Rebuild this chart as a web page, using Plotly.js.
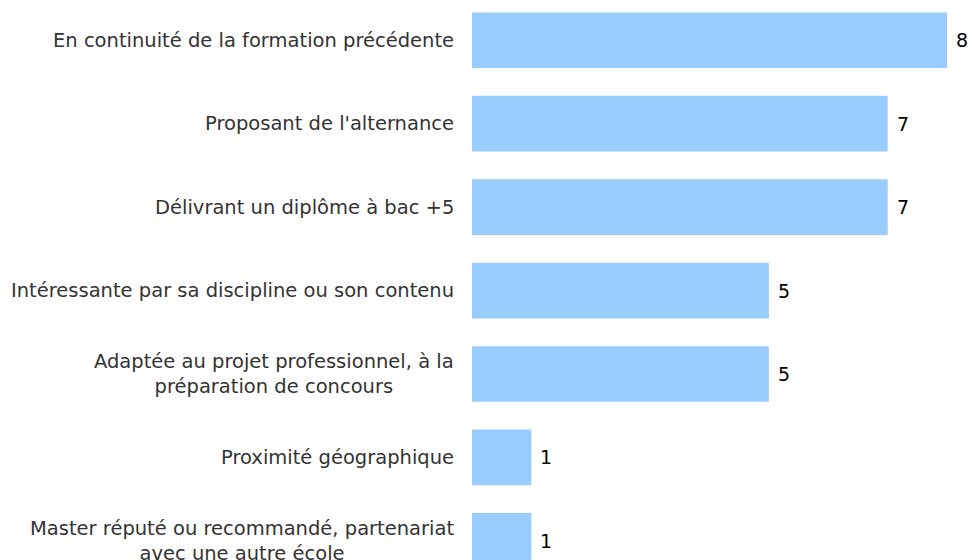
<!DOCTYPE html>
<html>
<head>
<meta charset="utf-8">
<script src="https://cdn.plot.ly/plotly-3.0.1.min.js"></script>
<style>
html,body{margin:0;padding:0;background:#fff;}
#chart{width:972px;height:560px;}
</style>
</head>
<body>
<div id="chart"></div>
<script>
const categories = [
  "En continuité de la formation précédente",
  "Proposant de l'alternance",
  "Délivrant un diplôme à bac +5",
  "Intéressante par sa discipline ou son contenu",
  "Adaptée au projet professionnel, à la<br>préparation de concours",
  "Proximité géographique",
  "Master réputé ou recommandé, partenariat<br>avec une autre école"
];
const values = [8, 7, 7, 5, 5, 1, 1];

const FONT = "'DejaVu Sans', sans-serif";

const trace = {
  type: "bar",
  orientation: "h",
  y: categories,
  x: values,
  marker: {color: "#99ccff", line: {width: 0}},
  hoverinfo: "none"
};

const valueNotes = values.map((v, i) => ({
  x: v, y: categories[i], xref: "x", yref: "y",
  text: String(v), showarrow: false,
  xanchor: "left", xshift: 7,
  font: {family: FONT, size: 19, color: "#000"}
}));

const labelNotes = categories.map((c) => ({
  x: 0, y: c, xref: "paper", yref: "y",
  text: c, showarrow: false,
  xanchor: "right", xshift: -16, align: "center",
  font: {family: FONT, size: 19.5, color: "#333"}
}));

const layout = {
  width: 972, height: 560,
  margin: {l: 472, r: 0, t: 0, b: 0, pad: 0},
  paper_bgcolor: "#fff", plot_bgcolor: "#fff",
  showlegend: false,
  bargap: 0.333,
  xaxis: {range: [0, 8.42], visible: false, fixedrange: true},
  yaxis: {
    type: "category",
    categoryorder: "array", categoryarray: categories,
    range: [6.229, -0.482], autorange: false,
    showgrid: false, zeroline: false, showline: false, ticks: "",
    showticklabels: false
  },
  annotations: labelNotes.concat(valueNotes)
};

Plotly.newPlot("chart", [trace], layout, {displayModeBar: false, staticPlot: true});
</script>
</body>
</html>
